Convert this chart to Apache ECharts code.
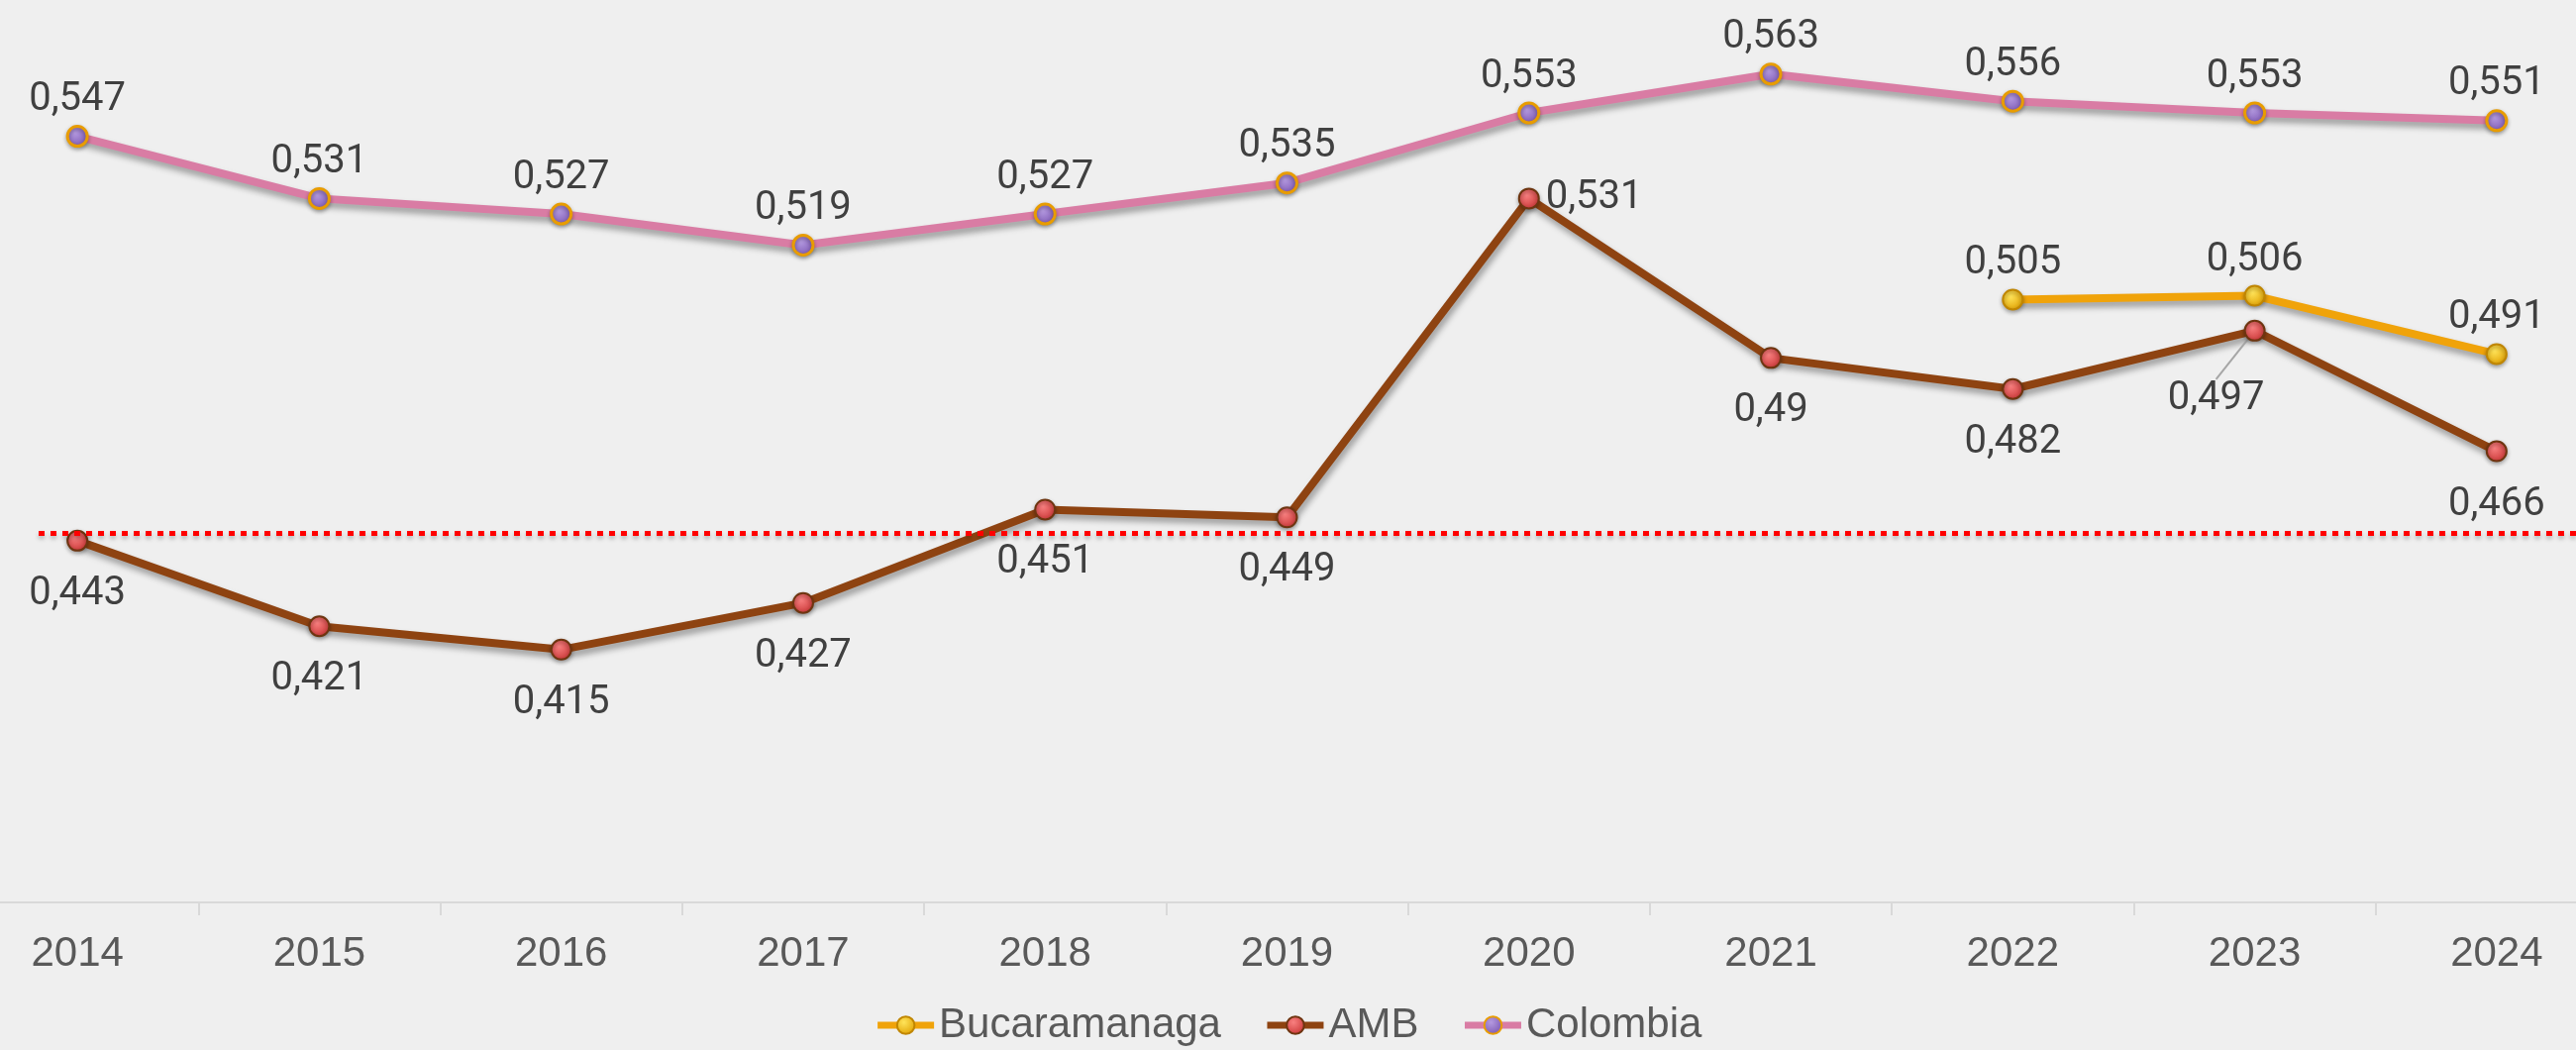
<!DOCTYPE html>
<html>
<head>
<meta charset="utf-8">
<script src="https://cdn.jsdelivr.net/npm/echarts@6/dist/echarts.min.js"></script>
<style>
html,body{margin:0;padding:0;background:#efefef;}
#chart{width:2601px;height:1060px;}
</style>
</head>
<body>
<div id="chart"></div>
<script>
const years = ['2014','2015','2016','2017','2018','2019','2020','2021','2022','2023','2024'];
const bucaramanaga = [null,null,null,null,null,null,null,null,0.505,0.506,0.491];
const amb = [0.443,0.421,0.415,0.427,0.451,0.449,0.531,0.49,0.482,0.497,0.466];
const colombia = [0.547,0.531,0.527,0.519,0.527,0.535,0.553,0.563,0.556,0.553,0.551];
const referenceLine = [0.445];
const yRange = [0.35, 0.58];

const fmt = p => String(p.value).replace('.', ',');
const labelFont = {fontFamily: 'Roboto', fontSize: 40, fontWeight: 'normal', color: '#404040'};
const lineShadow = {shadowColor: 'rgba(0,0,0,0.35)', shadowBlur: 6, shadowOffsetX: 2, shadowOffsetY: 5};

function radial(c1, c2) {
  return {type: 'radial', x: 0.4, y: 0.35, r: 0.7,
    colorStops: [{offset: 0, color: c1}, {offset: 1, color: c2}]};
}

const chart = echarts.init(document.getElementById('chart'), null, {renderer: 'canvas'});
chart.setOption({
  backgroundColor: '#efefef',
  animation: false,
  grid: {left: -44, right: -42, top: 8, bottom: 149, containLabel: false, outerBoundsMode: 'none'},
  xAxis: {
    type: 'category', data: years, boundaryGap: true,
    axisLine: {show: true, lineStyle: {color: '#d9d9d9', width: 2}},
    axisTick: {show: true, length: 13, lineStyle: {color: '#d9d9d9', width: 2}},
    axisLabel: {fontFamily: 'Liberation Sans', fontSize: 42, color: '#595959', margin: 31}
  },
  yAxis: {type: 'value', min: yRange[0], max: yRange[1], show: false, splitLine: {show: false}},
  legend: {
    top: 1009, left: 'center', itemWidth: 57, itemHeight: 22, itemGap: 43,
    lineStyle: {width: 7},
    textStyle: {fontFamily: 'Liberation Sans', fontSize: 42, color: '#595959'},
    data: ['Bucaramanaga', 'AMB', 'Colombia']
  },
  series: [
    {
      name: 'Colombia', type: 'line', data: colombia, z: 3,
      symbol: 'circle', symbolSize: 20,
      lineStyle: Object.assign({color: '#d97ca4', width: 8}, lineShadow),
      itemStyle: {color: radial('#b49ae0', '#7a55b0'), borderColor: '#e89c00', borderWidth: 3,
        shadowColor: 'rgba(0,0,0,0.3)', shadowBlur: 4, shadowOffsetY: 2},
      label: Object.assign({show: true, position: 'top', distance: 5, formatter: fmt}, labelFont)
    },
    {
      name: 'AMB', type: 'line', data: amb.map((v, i) => {
        if (i === 6) return {value: v, label: {position: 'right', distance: 6, offset: [0, -22]}};
        if (i === 9) return {value: v, labelLine: {show: true, lineStyle: {color: '#a6a6a6', width: 2}}};
        return v;
      }), z: 4,
      symbol: 'circle', symbolSize: 20,
      lineStyle: Object.assign({color: '#8e4311', width: 8}, lineShadow),
      itemStyle: {color: radial('#f88080', '#c83434'), borderColor: '#6e3510', borderWidth: 2,
        shadowColor: 'rgba(0,0,0,0.3)', shadowBlur: 4, shadowOffsetY: 2},
      label: Object.assign({show: true, position: 'bottom', distance: 23, formatter: fmt}, labelFont),
      labelLayout: function (p) {
        if (p.dataIndex === 9) return {dx: -39, dy: 15};
        return {};
      },
      markLine: {
        silent: true, symbol: ['none', 'none'], label: {show: false},
        lineStyle: {color: '#ff0000', width: 5, type: [6, 6],
          shadowColor: 'rgba(0,0,0,0.25)', shadowBlur: 4, shadowOffsetY: 3},
        data: [[{coord: [0, referenceLine[0]], x: 39}, {coord: [10, referenceLine[0]], x: 2601}]]
      }
    },
    {
      name: 'Bucaramanaga', type: 'line', data: bucaramanaga, z: 5,
      symbol: 'circle', symbolSize: 20,
      lineStyle: Object.assign({color: '#f0a30a', width: 8}, lineShadow),
      itemStyle: {color: radial('#ffe45a', '#e0a000'), borderColor: '#c08600', borderWidth: 2,
        shadowColor: 'rgba(0,0,0,0.3)', shadowBlur: 4, shadowOffsetY: 2},
      label: Object.assign({show: true, position: 'top', distance: 5, formatter: fmt}, labelFont)
    }
  ]
});
</script>
</body>
</html>
